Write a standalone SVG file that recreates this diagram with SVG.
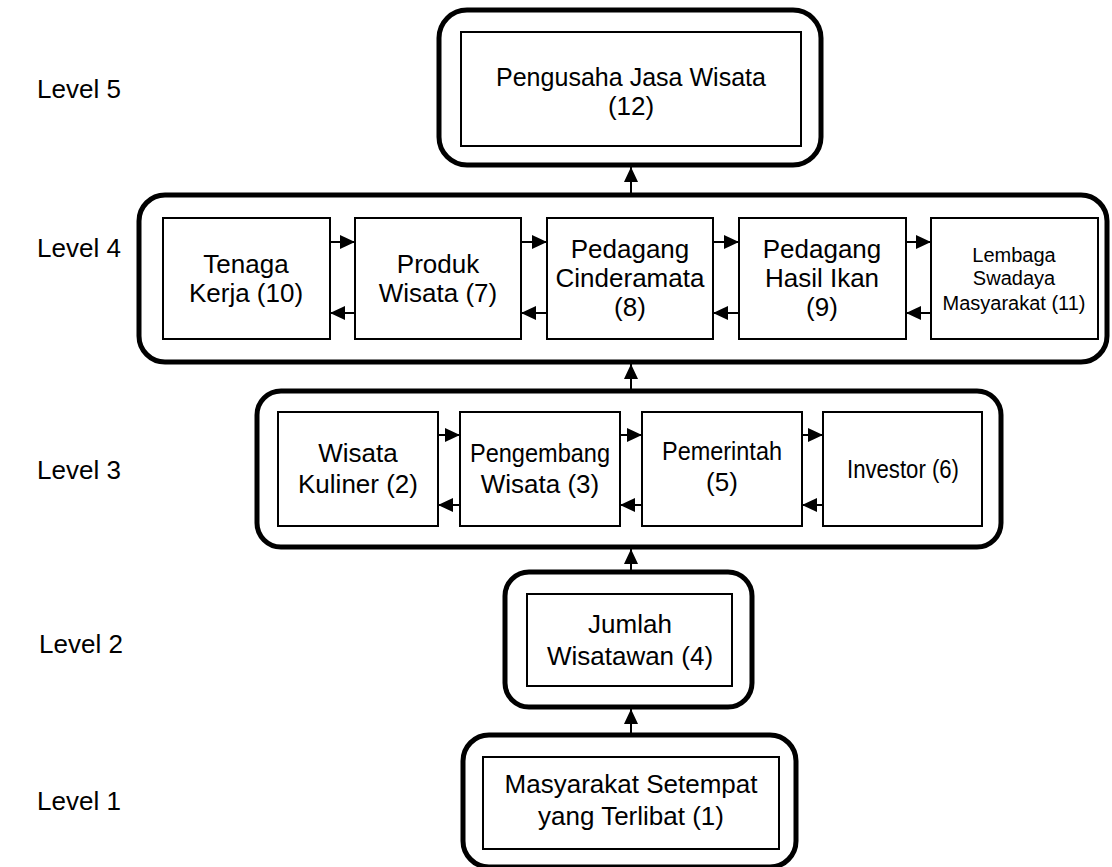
<svg xmlns="http://www.w3.org/2000/svg" width="1112" height="867" viewBox="0 0 1112 867">
  <style>
    .frame { fill: none; stroke: #000; stroke-width: 5; }
    .box { fill: #fff; stroke: #000; stroke-width: 2; }
    .t { font-family: "Liberation Sans", Arimo, Arial, sans-serif; font-size: 26px; fill: #000; text-anchor: middle; }
    .ts { font-family: "Liberation Sans", Arimo, Arial, sans-serif; font-size: 20px; fill: #000; text-anchor: middle; }
    .lvl { font-family: "Liberation Sans", Arimo, Arial, sans-serif; font-size: 26px; fill: #000; }
    .link { fill: none; stroke: #000; stroke-width: 2; marker-end: url(#head); }
  </style>
  <defs>
    <marker id="head" markerUnits="userSpaceOnUse" markerWidth="16" markerHeight="16" refX="15" refY="8" orient="auto">
      <path d="M0,1 L15,8 L0,15 z" fill="#000"/>
    </marker>
  </defs>
  <rect width="1112" height="867" fill="#fff"/>

  <!-- level labels -->
  <g id="labels">
    <text class="lvl" x="37" y="98">Level 5</text>
    <text class="lvl" x="37" y="257">Level 4</text>
    <text class="lvl" x="37" y="479">Level 3</text>
    <text class="lvl" x="39" y="653">Level 2</text>
    <text class="lvl" x="37" y="810">Level 1</text>
  </g>

  <!-- level frames -->
  <g id="frames">
    <rect id="frame5" class="frame" x="439" y="10" width="382" height="155" rx="28"/>
    <rect id="frame4" class="frame" x="139" y="195" width="968" height="167" rx="26"/>
    <rect id="frame3" class="frame" x="257" y="391" width="744" height="156" rx="24"/>
    <rect id="frame2" class="frame" x="505" y="572" width="247" height="135" rx="24"/>
    <rect id="frame1" class="frame" x="463" y="735" width="333" height="132" rx="26"/>
  </g>

  <!-- Level 5 -->
  <g id="n12">
    <rect class="box" x="461" y="32" width="340" height="114"/>
    <text class="t" x="631" y="86" textLength="270" lengthAdjust="spacingAndGlyphs">Pengusaha Jasa Wisata</text>
    <text class="t" x="631" y="115">(12)</text>
  </g>

  <!-- Level 4 -->
  <g id="n10">
    <rect class="box" x="163" y="218" width="167" height="121"/>
    <text class="t" x="246" y="273">Tenaga</text>
    <text class="t" x="246" y="302">Kerja (10)</text>
  </g>
  <g id="n7">
    <rect class="box" x="355" y="218" width="166" height="121"/>
    <text class="t" x="438" y="273">Produk</text>
    <text class="t" x="438" y="302">Wisata (7)</text>
  </g>
  <g id="n8">
    <rect class="box" x="547" y="218" width="166" height="121"/>
    <text class="t" x="630" y="258">Pedagang</text>
    <text class="t" x="630" y="287">Cinderamata</text>
    <text class="t" x="630" y="316">(8)</text>
  </g>
  <g id="n9">
    <rect class="box" x="739" y="218" width="167" height="121"/>
    <text class="t" x="822" y="258">Pedagang</text>
    <text class="t" x="822" y="287">Hasil Ikan</text>
    <text class="t" x="822" y="316">(9)</text>
  </g>
  <g id="n11">
    <rect class="box" x="931" y="218" width="167" height="121"/>
    <text class="ts" x="1014" y="262">Lembaga</text>
    <text class="ts" x="1014" y="285">Swadaya</text>
    <text class="ts" x="1014" y="310">Masyarakat (11)</text>
  </g>

  <!-- Level 3 -->
  <g id="n2">
    <rect class="box" x="278" y="412" width="160" height="114"/>
    <text class="t" x="358" y="462">Wisata</text>
    <text class="t" x="358" y="493">Kuliner (2)</text>
  </g>
  <g id="n3">
    <rect class="box" x="460" y="412" width="160" height="114"/>
    <text class="t" x="540" y="462" textLength="140" lengthAdjust="spacingAndGlyphs">Pengembang</text>
    <text class="t" x="540" y="493">Wisata (3)</text>
  </g>
  <g id="n5">
    <rect class="box" x="642" y="412" width="160" height="114"/>
    <text class="t" x="722" y="460" textLength="120" lengthAdjust="spacingAndGlyphs">Pemerintah</text>
    <text class="t" x="722" y="491">(5)</text>
  </g>
  <g id="n6">
    <rect class="box" x="823" y="412" width="159" height="114"/>
    <text class="t" x="903" y="478" textLength="112" lengthAdjust="spacingAndGlyphs">Investor (6)</text>
  </g>

  <!-- Level 2 -->
  <g id="n4">
    <rect class="box" x="527" y="594" width="205" height="92"/>
    <text class="t" x="630" y="633">Jumlah</text>
    <text class="t" x="630" y="665">Wisatawan (4)</text>
  </g>

  <!-- Level 1 -->
  <g id="n1">
    <rect class="box" x="483" y="757" width="296" height="92"/>
    <text class="t" x="631" y="793">Masyarakat Setempat</text>
    <text class="t" x="631" y="825">yang Terlibat (1)</text>
  </g>

  <!-- connectors -->
  <g id="connectors">
    <!-- upward links between levels -->
    <line class="link" x1="631" y1="733" x2="631" y2="709"/>
    <line class="link" x1="631" y1="570" x2="631" y2="549"/>
    <line class="link" x1="631" y1="389" x2="631" y2="364"/>
    <line class="link" x1="631" y1="193" x2="631" y2="167"/>

    <!-- level 4, forward -->
    <line class="link" x1="330" y1="242" x2="355" y2="242"/>
    <line class="link" x1="521" y1="242" x2="547" y2="242"/>
    <line class="link" x1="713" y1="242" x2="739" y2="242"/>
    <line class="link" x1="906" y1="242" x2="931" y2="242"/>
    <!-- level 4, backward -->
    <line class="link" x1="355" y1="313" x2="330" y2="313"/>
    <line class="link" x1="547" y1="313" x2="521" y2="313"/>
    <line class="link" x1="739" y1="313" x2="713" y2="313"/>
    <line class="link" x1="931" y1="313" x2="906" y2="313"/>

    <!-- level 3, forward -->
    <line class="link" x1="438" y1="435" x2="460" y2="435"/>
    <line class="link" x1="620" y1="435" x2="642" y2="435"/>
    <line class="link" x1="802" y1="435" x2="823" y2="435"/>
    <!-- level 3, backward -->
    <line class="link" x1="460" y1="505" x2="438" y2="505"/>
    <line class="link" x1="642" y1="505" x2="620" y2="505"/>
    <line class="link" x1="823" y1="505" x2="802" y2="505"/>
  </g>
</svg>
